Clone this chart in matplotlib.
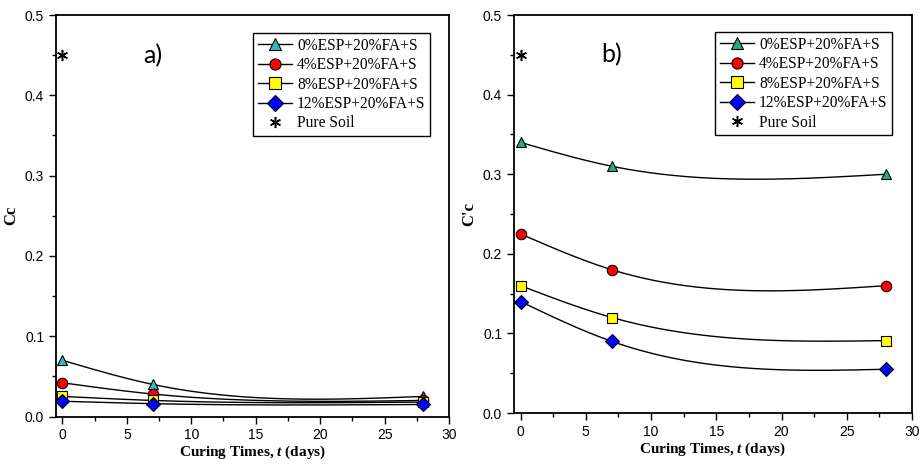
import numpy as np
import matplotlib.pyplot as plt
from matplotlib.ticker import MultipleLocator

plt.rcParams['mathtext.fontset'] = 'custom'
plt.rcParams['mathtext.rm'] = 'Liberation Serif'
plt.rcParams['mathtext.bf'] = 'Liberation Serif:bold'
plt.rcParams['mathtext.bfit'] = 'Liberation Serif:italic:bold'

days = [0, 7, 28]
labels = ['0%ESP+20%FA+S', '4%ESP+20%FA+S', '8%ESP+20%FA+S', '12%ESP+20%FA+S']
pure_soil = 0.45

# Cc values (panel a)
cc_0 = [0.070, 0.040, 0.025]
cc_4 = [0.042, 0.028, 0.020]
cc_8 = [0.025, 0.020, 0.018]
cc_12 = [0.019, 0.016, 0.015]

# C'c values (panel b)
crc_0 = [0.340, 0.310, 0.300]
crc_4 = [0.225, 0.180, 0.160]
crc_8 = [0.160, 0.120, 0.091]
crc_12 = [0.140, 0.090, 0.055]

markers = ['^', 'o', 's', 'D']
colors_a = ['#33BBBB', '#FF0000', '#FFFF00', '#0000FF']
colors_b = ['#20B07A', '#FF0000', '#FFFF00', '#0000FF']

serif = 'Liberation Serif'
sans = 'Liberation Sans'


def natural_spline(x, y, n=200):
    # natural cubic spline, only used to draw the smooth connecting line
    x = np.asarray(x, float)
    y = np.asarray(y, float)
    h = np.diff(x)
    k = len(x)
    A = np.zeros((k, k))
    r = np.zeros(k)
    A[0, 0] = A[-1, -1] = 1
    for i in range(1, k - 1):
        A[i, i - 1] = h[i - 1]
        A[i, i] = 2 * (h[i - 1] + h[i])
        A[i, i + 1] = h[i]
        r[i] = 6 * ((y[i + 1] - y[i]) / h[i] - (y[i] - y[i - 1]) / h[i - 1])
    M = np.linalg.solve(A, r)
    xs = np.linspace(x[0], x[-1], n)
    idx = np.clip(np.searchsorted(x, xs) - 1, 0, k - 2)
    x0, x1 = x[idx], x[idx + 1]
    hh = h[idx]
    ys = (M[idx] * (x1 - xs) ** 3 / (6 * hh) + M[idx + 1] * (xs - x0) ** 3 / (6 * hh)
          + (y[idx] / hh - M[idx] * hh / 6) * (x1 - xs)
          + (y[idx + 1] / hh - M[idx + 1] * hh / 6) * (xs - x0))
    return xs, ys


fig = plt.figure(figsize=(9.19, 4.66), dpi=100)
ax_a = fig.add_axes([0.0609, 0.1062, 0.4277, 0.8616])
ax_b = fig.add_axes([0.5593, 0.1137, 0.4331, 0.8540])

panels = [
    (ax_a, [cc_0, cc_4, cc_8, cc_12], colors_a, 'Cc', 'a)', (0.952, 0.955)),
    (ax_b, [crc_0, crc_4, crc_8, crc_12], colors_b, "C'c", 'b)', (0.950, 0.957)),
]

for ax, series, cols, ylab, tag, anchor in panels:
    handles = []
    for vals, m, c, lab in zip(series, markers, cols, labels):
        xs, ys = natural_spline(days, vals)
        ax.plot(xs, ys, color='black', lw=1.0, zorder=2)
        ax.plot(days, vals, linestyle='none', marker=m, ms=7.5, mfc=c,
                mec='black', mew=0.8, zorder=3)
        h, = ax.plot([], [], color='black', lw=1.0, marker=m, ms=8, mfc=c,
                     mec='black', mew=0.8, label=lab)
        handles.append(h)
    p = ax.plot([0], [pure_soil], linestyle='none', marker=(6, 2, 0), ms=8,
                color='black', mew=1.1, label='Pure Soil')[0]
    handles.append(p)

    ax.set_xlim(-0.5, 30)
    ax.set_ylim(0, 0.5)
    ax.xaxis.set_major_locator(MultipleLocator(5))
    ax.xaxis.set_minor_locator(MultipleLocator(2.5))
    ax.yaxis.set_major_locator(MultipleLocator(0.1))
    ax.yaxis.set_minor_locator(MultipleLocator(0.05))
    ax.tick_params(which='both', direction='out', top=False, right=False)
    ax.tick_params(which='major', length=5, width=1)
    ax.tick_params(which='minor', length=3, width=1)
    for sp in ax.spines.values():
        sp.set_linewidth(1.3)
    for t in ax.get_xticklabels() + ax.get_yticklabels():
        t.set_fontfamily(sans)
        t.set_fontsize(10)

    ax.set_xlabel(r'Curing Times, $\mathbfit{t}$ (days)', fontfamily=serif,
                  fontsize=11, fontweight='bold', labelpad=1)
    ax.set_ylabel(ylab, fontfamily=serif, fontsize=12, fontweight='bold')

    ax.text(7.0, 0.45, tag, fontfamily='Lato', fontsize=18, ha='center',
            va='center')

    leg = ax.legend(handles=handles, loc='upper right', bbox_to_anchor=anchor,
                    prop={'family': serif, 'size': 11.2}, frameon=True,
                    fancybox=False, edgecolor='black', framealpha=1,
                    borderpad=0.3, labelspacing=0.22, handlelength=2.2,
                    handletextpad=0.3, borderaxespad=0)
    leg.get_frame().set_linewidth(1.0)

fig.savefig('out.png', dpi=100)
